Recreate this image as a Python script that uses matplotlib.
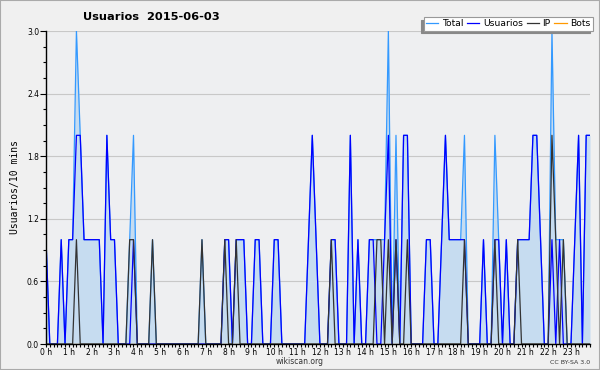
import numpy as np
import matplotlib
matplotlib.use("Agg")
import matplotlib.pyplot as plt
from matplotlib.ticker import MultipleLocator, FixedLocator, FormatStrFormatter

# 144 slots of 10 minutes, 2015-06-03
total = [1, 0, 0, 0, 1, 0, 1, 1, 3, 2, 1, 1, 1, 1, 1, 0, 2, 1, 1, 0,
         0, 0, 1, 2, 0, 0, 0, 0, 1, 0, 0, 0, 0, 0, 0, 0, 0, 0, 0, 0,
         0, 1, 0, 0, 0, 0, 0, 1, 1, 0, 1, 1, 1, 0, 0, 1, 1, 0, 0, 0,
         1, 1, 0, 0, 0, 0, 0, 0, 0, 1, 2, 1, 0, 0, 0, 1, 1, 0, 0, 0,
         2, 0, 1, 0, 0, 1, 1, 1, 1, 1, 3, 0, 2, 0, 2, 2, 0, 0, 0, 0,
         1, 1, 0, 0, 1, 2, 1, 1, 1, 1, 2, 0, 0, 0, 0, 1, 0, 0, 2, 1,
         0, 1, 0, 0, 1, 1, 1, 1, 2, 2, 1, 0, 0, 3, 1, 1, 1, 0, 0, 1,
         2, 0, 2, 2]
usuarios = [1, 0, 0, 0, 1, 0, 1, 1, 2, 2, 1, 1, 1, 1, 1, 0, 2, 1, 1, 0,
            0, 0, 0, 1, 0, 0, 0, 0, 0, 0, 0, 0, 0, 0, 0, 0, 0, 0, 0, 0,
            0, 0, 0, 0, 0, 0, 0, 1, 1, 0, 1, 1, 1, 0, 0, 1, 1, 0, 0, 0,
            1, 1, 0, 0, 0, 0, 0, 0, 0, 1, 2, 1, 0, 0, 0, 1, 1, 0, 0, 0,
            2, 0, 1, 0, 0, 1, 1, 0, 0, 1, 2, 0, 1, 0, 2, 2, 0, 0, 0, 0,
            1, 1, 0, 0, 1, 2, 1, 1, 1, 1, 1, 0, 0, 0, 0, 1, 0, 0, 1, 1,
            0, 1, 0, 0, 1, 1, 1, 1, 2, 2, 1, 0, 0, 1, 0, 1, 0, 0, 0, 1,
            2, 0, 2, 2]
ip = [0, 0, 0, 0, 0, 0, 0, 0, 1, 0, 0, 0, 0, 0, 0, 0, 0, 0, 0, 0,
      0, 0, 1, 1, 0, 0, 0, 0, 1, 0, 0, 0, 0, 0, 0, 0, 0, 0, 0, 0,
      0, 1, 0, 0, 0, 0, 0, 1, 0, 0, 1, 0, 0, 0, 0, 0, 0, 0, 0, 0,
      0, 0, 0, 0, 0, 0, 0, 0, 0, 0, 0, 0, 0, 0, 0, 1, 0, 0, 0, 0,
      0, 0, 0, 0, 0, 0, 0, 1, 1, 0, 1, 0, 1, 0, 0, 1, 0, 0, 0, 0,
      0, 0, 0, 0, 0, 0, 0, 0, 0, 0, 1, 0, 0, 0, 0, 0, 0, 0, 1, 0,
      0, 0, 0, 0, 1, 0, 0, 0, 0, 0, 0, 0, 0, 2, 1, 0, 1, 0, 0, 0,
      0, 0, 0, 0]
bots = [0] * 144
hour_labels = [f"{h} h" for h in range(24)]

x = np.arange(len(total))

plt.rcParams["font.family"] = ["DejaVu Sans"]

fig = plt.figure(figsize=(6, 3.7), dpi=100, facecolor="#f0f0f0")
ax = fig.add_axes([46 / 600, 26 / 370, 544 / 600, 313 / 370])
ax.set_facecolor("#eeeff1")

ax.fill_between(x, total, 0, color="#c6dcf0", lw=0, zorder=1)
l_bots, = ax.plot(x, bots, color="#ff9900", lw=0.9, zorder=1.5)
l_total, = ax.plot(x, total, color="#3399ff", lw=0.9, zorder=3)
l_users, = ax.plot(x, usuarios, color="#0000ff", lw=0.9, zorder=4)
l_ip, = ax.plot(x, ip, color="#333333", lw=0.9, zorder=5)

ax.set_xlim(0, 143)
ax.set_ylim(0, 3.0)

ax.yaxis.set_major_locator(MultipleLocator(0.6))
ax.yaxis.set_minor_locator(MultipleLocator(0.15))
ax.yaxis.set_major_formatter(FormatStrFormatter("%.1f"))
ax.xaxis.set_major_locator(FixedLocator(np.arange(0, 144, 6)))
ax.set_xticklabels(hour_labels)
ax.xaxis.set_minor_locator(MultipleLocator(1))

ax.grid(axis="y", color="#c8c8c8", lw=0.8, zorder=0)
ax.set_axisbelow(True)
for s in ["top", "right"]:
    ax.spines[s].set_visible(False)
for s in ["left", "bottom"]:
    ax.spines[s].set_linewidth(1)
    ax.spines[s].set_zorder(6)

ax.tick_params(axis="y", which="major", length=4, width=0.8, labelsize=5.5, pad=1)
ax.tick_params(axis="y", which="minor", length=2.2, width=0.8)
ax.tick_params(axis="x", which="major", length=2.5, width=0.8, labelsize=5.5, pad=0.5)
ax.tick_params(axis="x", which="minor", length=2.2, width=0.8)

ax.set_ylabel("Usuarios/10 mins", fontsize=7, family="DejaVu Sans Mono", labelpad=5)

fig.text(151 / 600, 1 - 17 / 370, "Usuarios  2015-06-03", fontsize=8.2, fontweight="bold",
         ha="center", va="center")
fig.text(0.5, 1 - 362 / 370, "wikiscan.org", fontsize=5.5, ha="center", va="center",
         color="#333333")
fig.text(590 / 600, 1 - 363 / 370, "CC BY-SA 3.0", fontsize=4.5, ha="right", va="center",
         color="#333333")

leg = fig.legend([l_total, l_users, l_ip, l_bots], ["Total", "Usuarios", "IP", "Bots"],
                 loc="upper right", bbox_to_anchor=(593 / 600, 1 - 17 / 370), ncol=4,
                 fontsize=6.7, frameon=True, fancybox=False,
                 shadow={"color": "#888888", "alpha": 1, "ox": -2, "oy": -2},
                 handlelength=1.3, handletextpad=0.4, columnspacing=0.4,
                 borderpad=0.25, borderaxespad=0)
leg.get_frame().set_edgecolor("#999999")
leg.get_frame().set_linewidth(0.8)

# thin border around figure
fig.patches.append(plt.Rectangle((0, 0), 1, 1, transform=fig.transFigure, fill=False,
                                 edgecolor="#aaaaaa", lw=1.5))

fig.savefig("out.png", dpi=100, facecolor=fig.get_facecolor())
